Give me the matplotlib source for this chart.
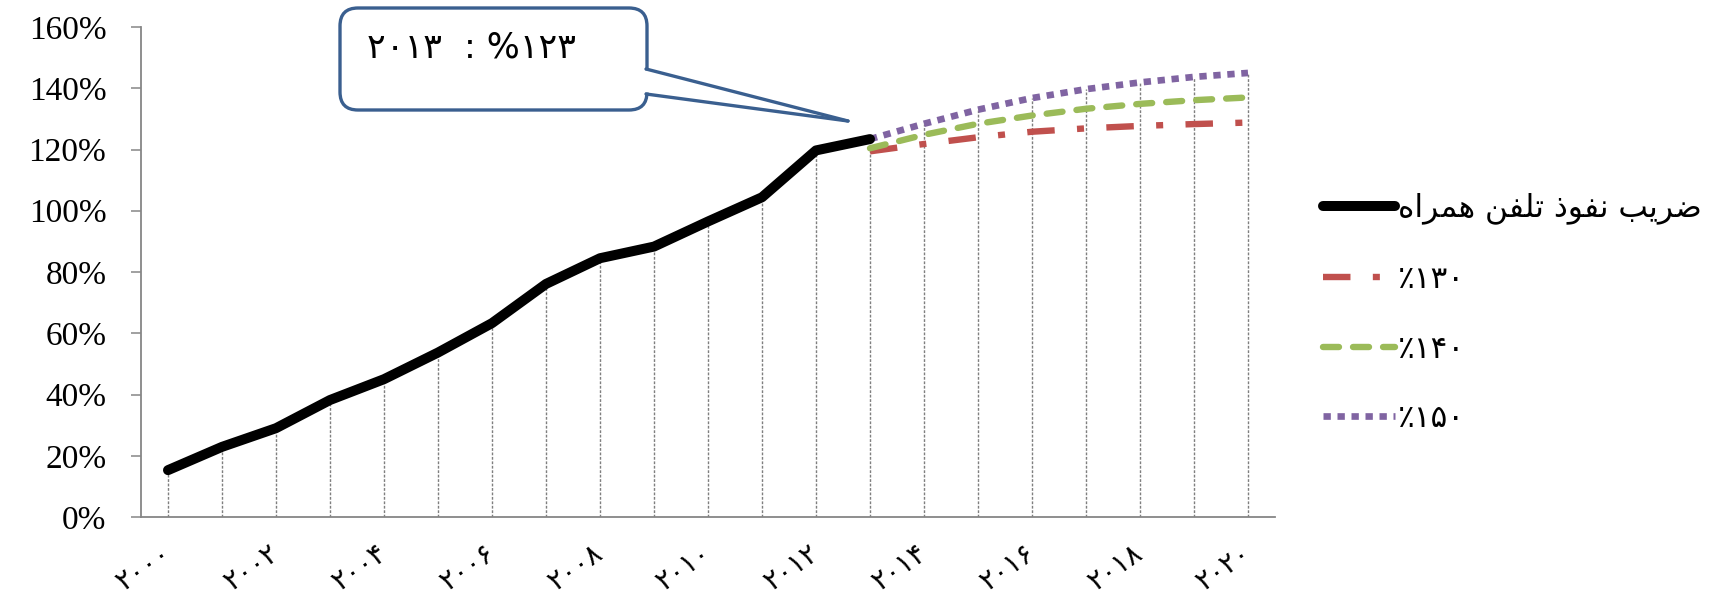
import matplotlib
matplotlib.use("Agg")

import matplotlib.pyplot as plt
from matplotlib.patches import FancyBboxPatch, Polygon
from matplotlib.lines import Line2D

# ---- data ----
years_hist = list(range(2000, 2014))
penetration = [15.3, 22.9, 29.0, 38.2, 45.0, 53.7, 63.3, 76.1, 84.5, 88.3,
               96.5, 104.4, 119.7, 123.4]

years_proj = list(range(2013, 2021))
proj_130 = [119.4, 121.8, 124.0, 125.8, 126.9, 127.7, 128.3, 128.8]
proj_140 = [120.4, 124.8, 128.4, 131.1, 133.3, 134.9, 136.1, 137.0]
proj_150 = [123.4, 128.4, 133.0, 136.8, 139.7, 141.9, 143.7, 145.0]

y_ticks = [0, 20, 40, 60, 80, 100, 120, 140, 160]
y_ticklabels = ["0%", "20%", "40%", "60%", "80%", "100%", "120%", "140%", "160%"]

x_ticks = list(range(2000, 2021, 2))
x_ticklabels = ["۲۰۰۰", "۲۰۰۲", "۲۰۰۴", "۲۰۰۶", "۲۰۰۸", "۲۰۱۰",
                "۲۰۱۲", "۲۰۱۴", "۲۰۱۶", "۲۰۱۸", "۲۰۲۰"]

label_main = "ضریب نفوذ تلفن همراه"
label_130 = "٪۱۳۰"
label_140 = "٪۱۴۰"
label_150 = "٪۱۵۰"
callout_text = "۲۰۱۳  : %۱۲۳"

# ---- minimal arabic shaping (matplotlib has no complex text layout) ----
FORMS = {  # isolated, final, initial, medial
    "ا": ("\uFE8D", "\uFE8E", None, None),
    "ب": ("\uFE8F", "\uFE90", "\uFE91", "\uFE92"),
    "ت": ("\uFE95", "\uFE96", "\uFE97", "\uFE98"),
    "ذ": ("\uFEAB", "\uFEAC", None, None),
    "ر": ("\uFEAD", "\uFEAE", None, None),
    "ض": ("\uFEBD", "\uFEBE", "\uFEBF", "\uFEC0"),
    "ف": ("\uFED1", "\uFED2", "\uFED3", "\uFED4"),
    "ل": ("\uFEDD", "\uFEDE", "\uFEDF", "\uFEE0"),
    "م": ("\uFEE1", "\uFEE2", "\uFEE3", "\uFEE4"),
    "ن": ("\uFEE5", "\uFEE6", "\uFEE7", "\uFEE8"),
    "ه": ("\uFEE9", "\uFEEA", "\uFEEB", "\uFEEC"),
    "و": ("\uFEED", "\uFEEE", None, None),
    "ی": ("\uFBFC", "\uFBFD", "\uFBFE", "\uFBFF"),
}


def shape_rtl(text):
    out = []
    for i, ch in enumerate(text):
        if ch not in FORMS:
            out.append(ch)
            continue
        prev = text[i - 1] if i > 0 else ""
        nxt = text[i + 1] if i + 1 < len(text) else ""
        join_prev = prev in FORMS and FORMS[prev][2] is not None
        join_next = FORMS[ch][2] is not None and nxt in FORMS
        iso, fin, ini, med = FORMS[ch]
        if join_prev and join_next:
            out.append(med)
        elif join_prev:
            out.append(fin)
        elif join_next:
            out.append(ini)
        else:
            out.append(iso)
    return "".join(reversed(out))


W, H = 1713, 596
fig = plt.figure(figsize=(W / 100, H / 100), dpi=100)
ax = fig.add_axes([141 / W, 1 - 517 / H, (1275 - 141) / W, (517 - 27) / H])

# drop lines from the highest series down to the axis
tops = {}
for xs, ys in [(years_hist, penetration), (years_proj, proj_130),
               (years_proj, proj_140), (years_proj, proj_150)]:
    for x, y in zip(xs, ys):
        tops[x] = max(tops.get(x, 0), y)
yrs = sorted(tops)
ax.vlines(yrs, 0, [tops[y] for y in yrs], colors="#7f7f7f",
          linestyles=(0, (2, 1.2)), linewidth=1.0, zorder=1)

ax.plot(years_proj, proj_130, color="#C0504D", linewidth=4.6,
        dashes=(4.3, 3.5, 1.1, 3.5), dash_capstyle="butt",
        label=label_130, zorder=3)
ax.plot(years_proj, proj_140, color="#9BBB59", linewidth=4.6,
        dashes=(2.5, 2.2), dash_capstyle="round",
        label=label_140, zorder=3)
ax.plot(years_proj, proj_150, color="#8064A2", linewidth=4.8,
        dashes=(1.1, 1.0), dash_capstyle="butt",
        label=label_150, zorder=4)
ax.plot(years_hist, penetration, color="black", linewidth=7.2,
        solid_capstyle="round", solid_joinstyle="round",
        label=shape_rtl(label_main), zorder=5)

ax.set_xlim(1999.5, 2020.5)
ax.set_ylim(0, 160)

ax.set_yticks(y_ticks)
ax.set_yticklabels(y_ticklabels, fontfamily="Liberation Serif", fontsize=24)
ax.tick_params(axis="y", direction="out", length=7, width=1.1,
               color="#868686", pad=18)

ax.set_xticks(x_ticks)
ax.set_xticklabels(x_ticklabels, fontfamily="DejaVu Sans", fontsize=20,
                   rotation=35, ha="right", va="center",
                   rotation_mode="anchor")
ax.tick_params(axis="x", length=0, pad=24)

for side in ["top", "right"]:
    ax.spines[side].set_visible(False)
for side in ["left", "bottom"]:
    ax.spines[side].set_color("#868686")
    ax.spines[side].set_linewidth(1.3)

# legend (order: main series first)
handles, labels = ax.get_legend_handles_labels()
order = [3, 0, 1, 2]
leg = fig.legend([handles[i] for i in order], [labels[i] for i in order],
                 loc="center left", bbox_to_anchor=(1323 / W, 1 - 313 / H),
                 frameon=False, prop={"family": "DejaVu Sans", "size": 22.5},
                 handlelength=2.3, handletextpad=0.1, labelspacing=1.3,
                 borderpad=0, borderaxespad=0)

# callout box
bx0, by0, bx1, by1 = 340, 8, 647, 110
r = 18
box = FancyBboxPatch((bx0 / W, 1 - by1 / H), (bx1 - bx0) / W, (by1 - by0) / H,
                     boxstyle=f"round,pad=0,rounding_size={r / W}",
                     mutation_aspect=W / H, transform=fig.transFigure,
                     facecolor="white", edgecolor="#3A5F8F", linewidth=2.4,
                     zorder=10)
fig.patches.append(box)
tip = (848, 121)
p_top = (bx1 - 4, 69)
p_bot = (bx1 - 4, 94)
cover = Polygon([(p_top[0] / W, 1 - (p_top[1] + 1.5) / H),
                 ((bx1 + 3) / W, 1 - (p_top[1] + 1.5) / H),
                 (tip[0] / W, 1 - tip[1] / H),
                 ((bx1 + 3) / W, 1 - (p_bot[1] - 1.5) / H),
                 (p_bot[0] / W, 1 - (p_bot[1] - 1.5) / H)],
                closed=True, transform=fig.transFigure, facecolor="white",
                edgecolor="none", zorder=11)
fig.patches.append(cover)
for p in (p_top, p_bot):
    fig.lines.append(Line2D([(bx1 - 1) / W, tip[0] / W],
                            [1 - p[1] / H, 1 - tip[1] / H],
                            transform=fig.transFigure, color="#3A5F8F",
                            linewidth=2.4, solid_capstyle="round", zorder=12))
fig.text(367 / W, 1 - 47 / H, callout_text, family="DejaVu Sans",
         fontsize=25, ha="left", va="center", zorder=13)

fig.savefig("out.png", dpi=100)
